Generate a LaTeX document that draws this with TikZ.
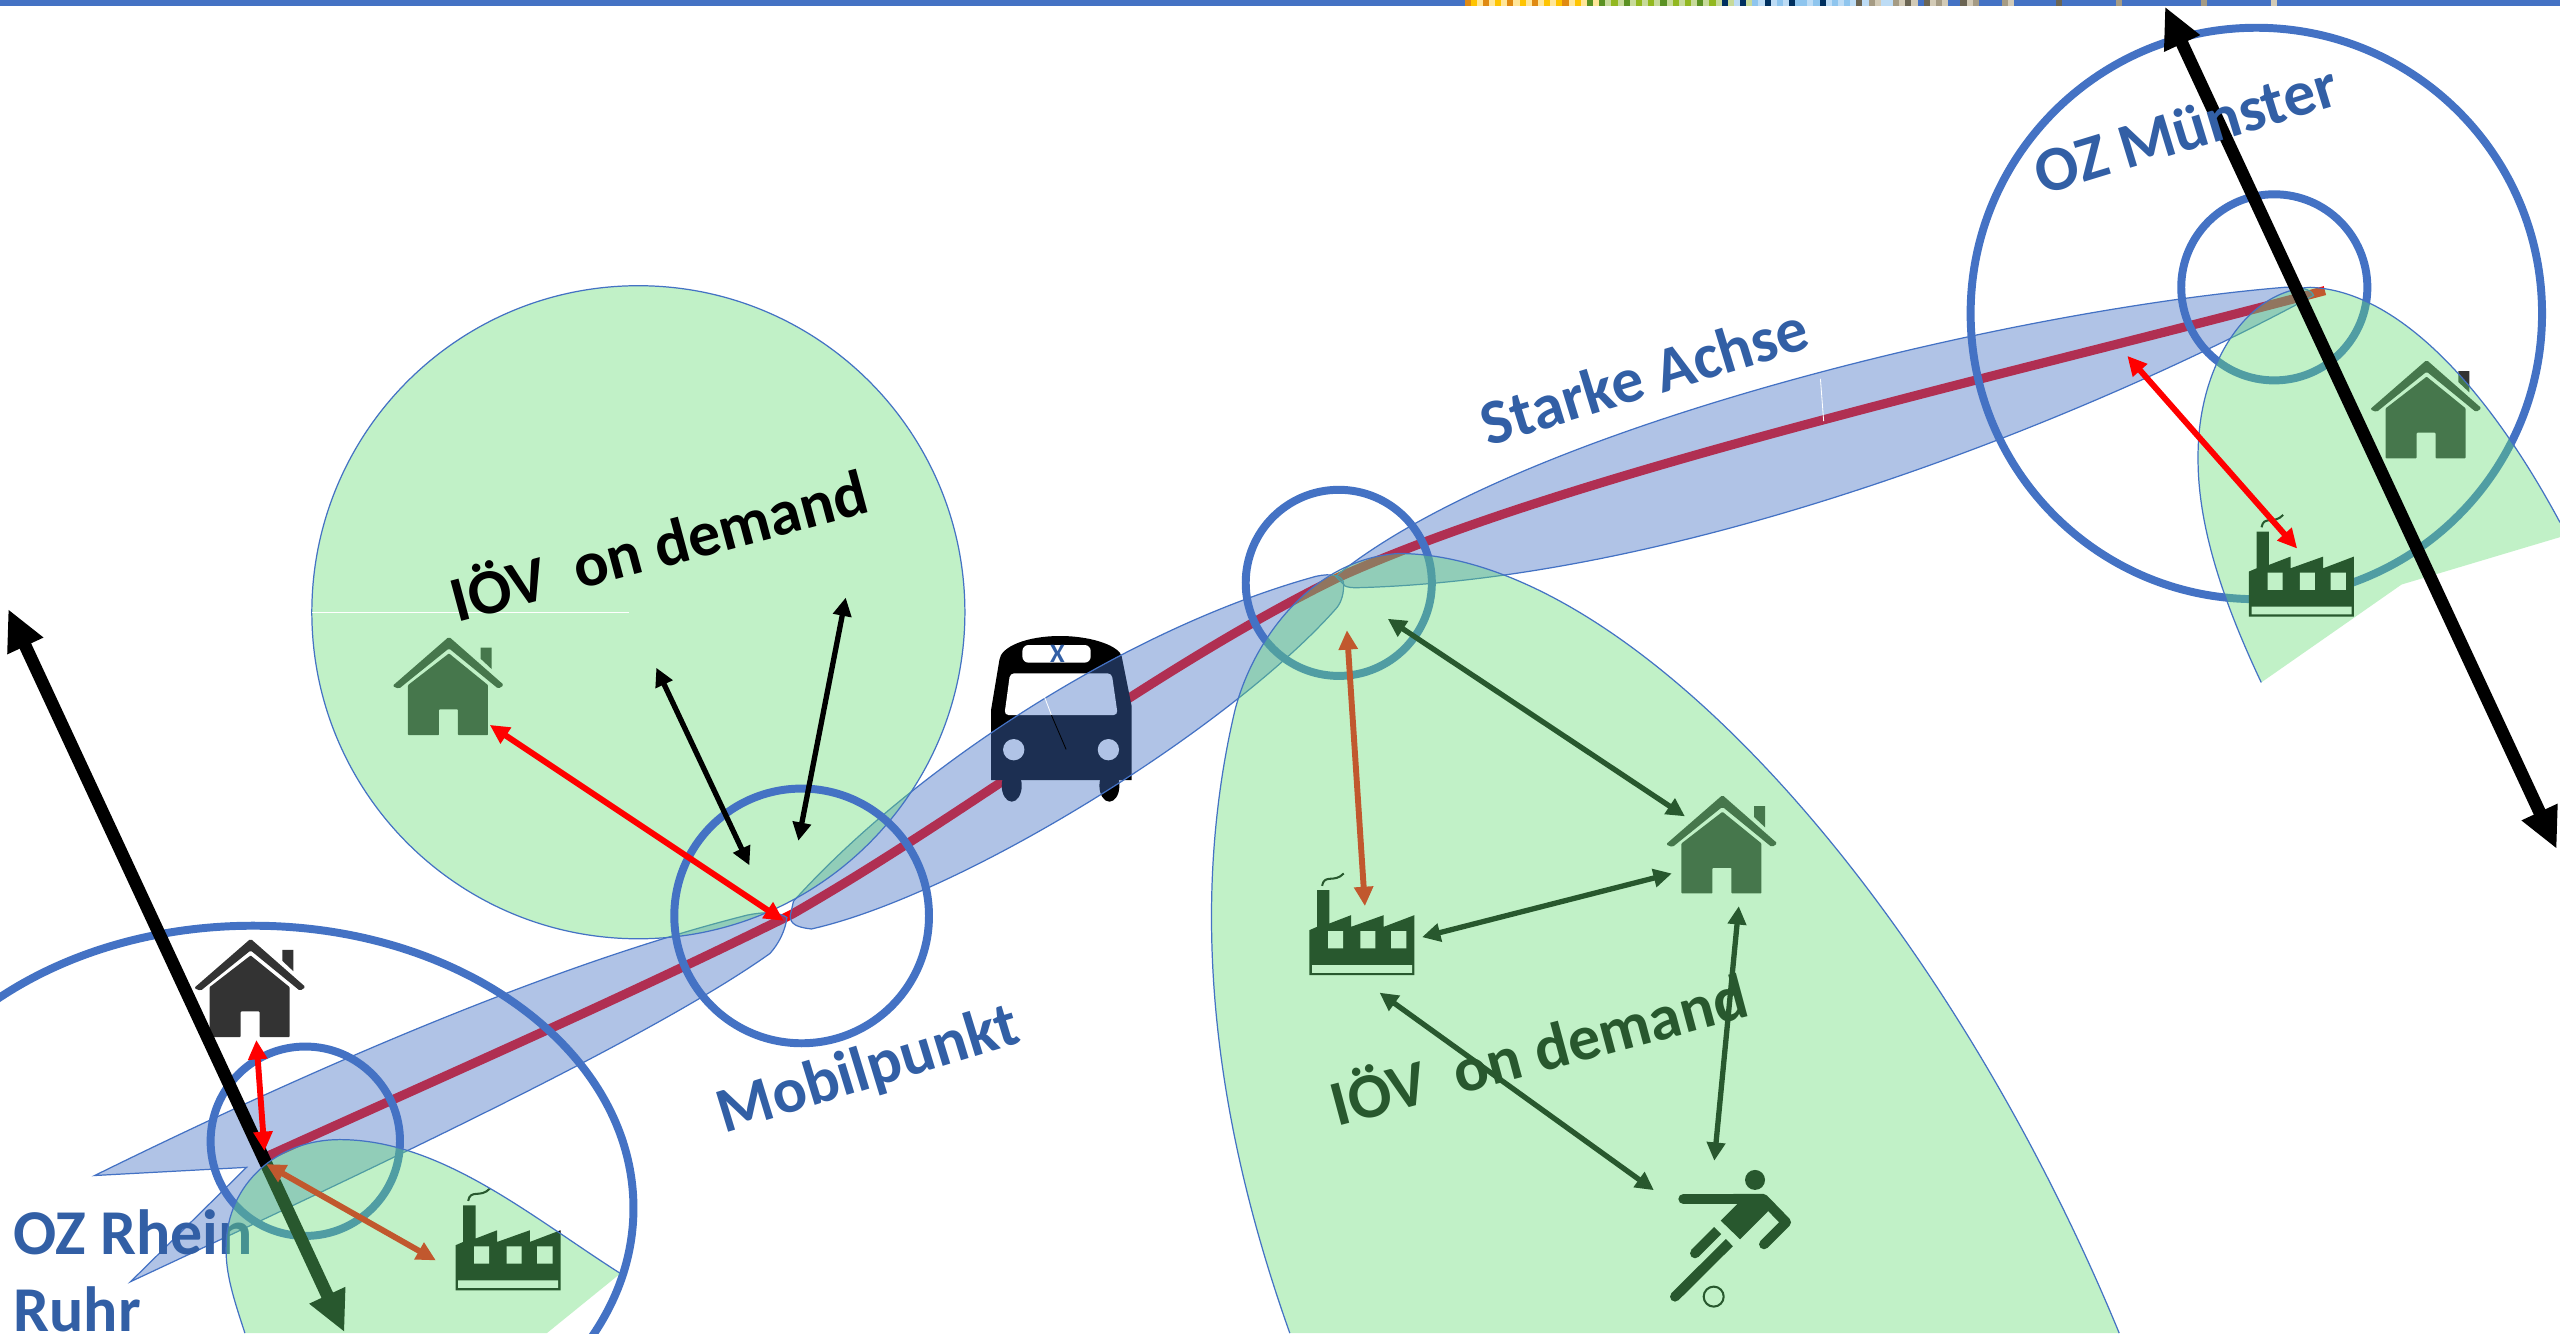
\documentclass[tikz,border=0pt]{standalone}
\usepackage{fontspec}
\setmainfont{Carlito}
\usetikzlibrary{arrows.meta}
\definecolor{bandblue}{HTML}{4472C4}
\definecolor{leafgreen}{RGB}{100,222,115}
\definecolor{labelblue}{RGB}{50,95,165}
\definecolor{Or}{HTML}{E08A12}\definecolor{Ye}{HTML}{FFC400}\definecolor{Pa}{HTML}{FFE699}
\definecolor{Gr}{HTML}{5B9223}\definecolor{Lg}{HTML}{C7DA9A}\definecolor{Ol}{HTML}{92B820}
\definecolor{Nv}{HTML}{00305F}\definecolor{Pb}{HTML}{BDDCF5}\definecolor{Lb}{HTML}{8EC5EE}
\definecolor{Dg}{HTML}{6B6553}\definecolor{Tn}{HTML}{A59B84}\definecolor{Bg}{HTML}{D2CAB6}
\tikzset{
 x=0.8pt,y=-0.8pt,
 bandshape/.style={draw=bandblue,line width=.6pt,fill=bandblue,fill opacity=.42,draw opacity=1},
 leafedge/.style={draw=bandblue,line width=.6pt},
 leaffill/.style={fill=leafgreen,fill opacity=.4},
 ring/.style={draw=bandblue,line width=3.9pt},
 thinarrow/.style={{Triangle[length=9pt,width=8.8pt]}-{Triangle[length=9pt,width=8.8pt]},line width=2.6pt},
 redarrow/.style={{Triangle[length=9.5pt,width=9pt]}-{Triangle[length=9.5pt,width=9pt]},line width=2.9pt,draw=red,color=red},
 bigarrow/.style={{Triangle[length=20pt,width=18pt]}-{Triangle[length=20pt,width=18pt]},line width=6.2pt},
 bluelabel/.style={text=labelblue,font=\fontsize{31.3}{33}\selectfont\bfseries,inner sep=0pt},
 demandlabel/.style={font=\fontsize{31.4}{33}\selectfont\bfseries,inner sep=0pt},
 icon/.style={scale=.2042}
}
\newcommand{\houseicon}[3]{%
 \begin{scope}[shift={(#1,#2)},icon,shift={(-830,-300)}]
  \fill[#3,rounded corners=.8pt] (830,300)--(995,445)--(978,456)--(830,335)--(680,456)--(660,448)--cycle;
  \fill[#3] (925,333)--(958,333)--(958,397)--(925,366)--cycle;
  \fill[#3,rounded corners=.4pt] (830,350)--(947,445)--(947,595)--(857,595)--(857,518)--(800,518)--(800,595)--(707,595)--(707,445)--cycle;
 \end{scope}}
\newcommand{\factoryicon}[2]{%
 \begin{scope}[shift={(#1,#2)},icon,shift={(-297,-765)}]
  \fill[black] (297,935)--(320,925)--(320,815)--(357,815)--(357,915)--(422,890)--(422,925)--(520,890)--(520,925)--(612,890)--(612,1070)--(297,1070)--cycle;
  \fill[white] (353,938) rectangle (398,990) (450,938) rectangle (495,990) (542,938) rectangle (588,990) (305,1040) rectangle (605,1063);
  \draw[black,line width=1pt] (335,802) .. controls (342,765) and (372,795) .. (400,765);
 \end{scope}}
\begin{document}
\begin{tikzpicture}
\useasboundingbox (0,0) rectangle (1568,816.5);
\clip (0,0) rectangle (1568,816.5);
\fill[white] (0,0) rectangle (1568,816.5);
% top bar
\fill[bandblue] (0,0) rectangle (1568,3.7);
\foreach \c [count=\i] in {Or,Ye,Pa,Or,Pa,Ye,Pa,Or,Pa,Ye,Pa,Or,Pa,Ye,Pa,Ye,Or,Pa,Ye,Pa,Gr,Pa,Gr,Lg,Ol,Lg,Gr,Lg,Ol,Lg,Ol,Lg,Gr,Lg,Ol,Lg,Ol,Lg,Gr,Lg,Ol,Lg,Nv,Lg,Pb,Nv,Lg,Lb,Pb,Nv,Pb,Lb,Pb,Nv,Lb,Lb,Pb,Lb,Nv,Pb,Lb,Pb,Lb,Pb,Dg,Pb,Tn,Bg,Pb,Pb,Tn,Bg,Dg,Bg,bandblue,Dg,Bg,Tn,Bg,bandblue,bandblue,Dg,Bg,Tn}
  \fill[\c] ({897+(\i-1)*3.75},0) rectangle ++(3.8,3.7);
\fill[Tn] (1226,0) rectangle ++(3.8,3.7);
\fill[Bg] (1230,0) rectangle ++(3.8,3.7);
\fill[Dg] (1259,0) rectangle ++(3.8,3.7);
\fill[Tn] (1296,0) rectangle ++(3.8,3.7);
\fill[Tn] (1348,0) rectangle ++(3.8,3.7);
\fill[Bg] (1391,0) rectangle ++(3.8,3.7);
% red axis line, under the bus
\draw[red,line width=4.5pt] (162,709) .. controls (270,660) and (380,612) .. (485,560) .. controls (595,497) and (705,410) .. (819,354) .. controls (960,290) and (1220,232) .. (1424,178);
% bus
\begin{scope}[shift={(581.9,367.5)},icon]
 \fill[black] (123,540)--(123,330)--(148,180) .. controls (152,140) and (230,108) .. (330,108) .. controls (430,108) and (510,140) .. (515,170)--(545,320)--(545,540)--cycle;
 \fill[black] (185,557) ellipse [x radius=30,y radius=48];
 \fill[black] (478,557) ellipse [x radius=30,y radius=48];
 \fill[white,rounded corners=2pt] (180,220)--(485,220)--(503,345)--(163,345)--cycle;
 \fill[white] (191,449) circle [radius=32];
 \fill[white] (475,449) circle [radius=32];
 \fill[white,rounded corners=3pt] (217,135) rectangle (422,188);
 \node[text=labelblue,font=\fontsize{13}{13}\selectfont\bfseries,inner sep=0pt] (busx) at (322,163) {X};
\end{scope}
% bands
\path[bandshape] (58,720) .. controls (190,655) and (340,590) .. (457.7,560.5) .. controls (470,558) and (478,559) .. (482,562) .. controls (481,570) and (477,578) .. (471.6,584) .. controls (400,635) and (230,715) .. (80,785) -- (151,715) -- cycle;
\path[bandshape] (484,561) -- (486,552) .. controls (560,470) and (690,385) .. (806,353) .. controls (815,351) and (823,352) .. (823,358) .. controls (823,363) and (822,368) .. (819,372) .. controls (755,445) and (590,548) .. (497,569) .. controls (488,568) and (484,566) .. (484,561) -- cycle;
\path[bandshape] (818,353) .. controls (930,262) and (1230,190) .. (1399,176) .. controls (1408,175.5) and (1416,177) .. (1417,181) .. controls (1290,250) and (1040,355) .. (830,360) .. controls (826,360) and (823,359) .. (823,358) -- cycle;
\draw[white,line width=.4pt] (1115,232)--(1117,258);
\draw[white,line width=.4pt] (639.7,426.7)--(644,438);
\draw[black,line width=.4pt] (644,438)--(653,459);
% upper leaf with its house
\houseicon{275}{390}{black!80}
\path[leaffill,leafedge,draw opacity=1] (391,375) circle [radius=200];
\draw[white,line width=.5pt] (191,375)--(385,375);
% rings
\draw[ring] (491,561) circle [radius=78];
\draw[ring] (820,357) circle [radius=57];
\draw[ring] (1382,192) circle [radius=175];
\draw[ring] (1393,176) circle [radius=57];
\draw[ring] (155,740) ellipse [x radius=233,y radius=173];
\draw[ring] (187,699) circle [radius=58];
% icons under the green
\houseicon{153.5}{575}{black!80}
\houseicon{1055}{487}{black!80}
\houseicon{1486.3}{220.5}{black!80}
\factoryicon{1377.4}{315.4}
\factoryicon{802}{535}
\factoryicon{279}{728}
% footballer
\begin{scope}[shift={(980,673.7)},icon]
 \fill[black] (465,240) circle [radius=30];
 \draw[black,line width=4.9pt,line cap=round] (250,297)--(480,297);
 \fill[black] (400,282)--(490,282)--(510,300)--(503,335)--(420,418)--(362,362)--(412,312)--cycle;
 \draw[black,line width=4.9pt,line cap=round,line join=round] (490,297)--(558,367)--(492,433);
 \draw[black,line width=4.9pt] (353,392)--(285,460);
 \fill[black] (285,460) circle [radius=15];
 \draw[black,line width=4.9pt] (388,428)--(225,590);
 \fill[black] (225,590) circle [radius=15];
 \draw[black,line width=1pt] (341,590) circle [radius=30];
\end{scope}
% named arrow ends
\coordinate (rrTop) at (5,373); \coordinate (rrEnd) at (211,816);
\coordinate (msTop) at (1326,4); \coordinate (msEnd) at (1566,520);
\coordinate (rrHub) at (163,713); \coordinate (rrWork) at (267,772);
\coordinate (midTop) at (825,386); \coordinate (midFac) at (836,555);
\coordinate (midRing) at (850,379); \coordinate (midHouse) at (1032,500);
\coordinate (facE) at (871,574); \coordinate (houseW) at (1024,535);
\coordinate (houseS) at (1065,555); \coordinate (ballN) at (1050,711);
\coordinate (facS) at (845,608); \coordinate (ballW) at (1013,729);
\coordinate (rrHouse) at (157,637); \coordinate (rrHubN) at (162,705);
\coordinate (msHub) at (1303,218); \coordinate (msFac) at (1407,336);
\coordinate (upHouse) at (300,444); \coordinate (mpHub) at (480,564);
\coordinate (upA) at (402,409); \coordinate (mpA) at (459,530);
\coordinate (upB) at (518,366); \coordinate (mpB) at (489,515);
% under the green
\draw[bigarrow,black] (rrTop)--(rrEnd);
\draw[redarrow] (rrHub)--(rrWork);
\draw[redarrow] (midTop)--(midFac);
\draw[thinarrow,black] (midRing)--(midHouse);
\draw[thinarrow,black] (facE)--(houseW);
\draw[thinarrow,black] (houseS)--(ballN);
\draw[thinarrow,black] (facS)--(ballW);
% labels under the green
\node[bluelabel,anchor=west] (ozrr1) at (8,755) {OZ Rhein};
\node[bluelabel,anchor=west] (ozrr2) at (8,802) {Ruhr};
\node[demandlabel,text=black,rotate=15] (demand2) at (942,641) {IÖV\ \ on demand};
% green leaves
\fill[leaffill] (790,816.5) .. controls (745,690) and (727,560) .. (756.4,435) .. controls (768,390) and (805,342) .. (857,339) .. controls (1000,340) and (1190,555) .. (1298,816.5) -- cycle;
\draw[leafedge] (790,816.5) .. controls (745,690) and (727,560) .. (756.4,435) .. controls (768,390) and (805,342) .. (857,339) .. controls (1000,340) and (1190,555) .. (1298,816.5);
\fill[leaffill] (1385,418) .. controls (1360,365) and (1346,320) .. (1346.3,280) .. controls (1346,225) and (1375,178) .. (1415,176) .. controls (1470,178) and (1525,240) .. (1568,320) -- (1568,329) -- (1471,358) -- cycle;
\draw[leafedge] (1385,418) .. controls (1360,365) and (1346,320) .. (1346.3,280) .. controls (1346,225) and (1375,178) .. (1415,176) .. controls (1470,178) and (1525,240) .. (1568,320);
\fill[leaffill] (150,816.5) .. controls (143,795) and (138,780) .. (138.5,763) .. controls (139,725) and (170,698) .. (208,698) .. controls (270,698) and (325,745) .. (380,780) -- (335,816.5) -- cycle;
\draw[leafedge] (150,816.5) .. controls (143,795) and (138,780) .. (138.5,763) .. controls (139,725) and (170,698) .. (208,698) .. controls (270,698) and (325,745) .. (380,780);
% top layer
\draw[bigarrow,black] (msTop)--(msEnd);
\draw[redarrow] (rrHouse)--(rrHubN);
\draw[redarrow] (msHub)--(msFac);
\draw[redarrow] (upHouse)--(mpHub);
\draw[thinarrow,black] (upA)--(mpA);
\draw[thinarrow,black] (upB)--(mpB);
\node[demandlabel,text=black,rotate=15] (demand1) at (403,332) {IÖV\ \ on demand};
\node[bluelabel,rotate=17] (starke) at (1007,230) {Starke Achse};
\node[bluelabel,rotate=17] (mobil) at (532,656) {Mobilpunkt};
\node[bluelabel,rotate=17] (ozms) at (1339,79) {OZ Münster};
\end{tikzpicture}
\end{document}
